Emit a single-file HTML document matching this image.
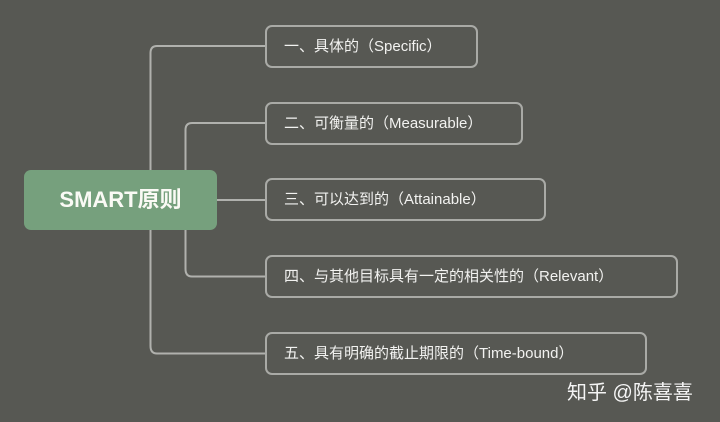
<!DOCTYPE html>
<html><head><meta charset="utf-8"><style>
html,body{margin:0;padding:0}
body{width:720px;height:422px;background:#575853;position:relative;overflow:hidden;font-family:"Liberation Sans","Noto Sans CJK SC",sans-serif}
.b{position:absolute;left:265px;height:43px;border:2px solid #a9aaa6;border-radius:7px;box-sizing:border-box;color:#f2f2f0;font-size:15px;line-height:40px;padding-left:17px}
.c{position:absolute;left:24px;top:170px;width:193px;height:60px;background:#76a07d;border-radius:7px;color:#fafaf5;font-size:22px;font-weight:bold;line-height:60px;text-align:center}
.w{position:absolute;left:567px;top:376px;color:#f4f4f4;font-size:20px}
</style></head><body>
<svg width="720" height="422" style="position:absolute;left:0;top:0">
<g fill="none" stroke="#b0b1ad" stroke-width="2">
<path d="M265 46 H157 Q150.5 46 150.5 53 V346 Q150.5 353.5 157 353.5 H265"/>
<path d="M265 123 H192 Q185.5 123 185.5 130 V269 Q185.5 276.5 192 276.5 H265"/>
<path d="M217 200 H265"/>
</g></svg>
<div class="c">SMART原则</div>
<div class="b" style="top:25px;width:213px">一、具体的（Specific）</div>
<div class="b" style="top:102px;width:258px">二、可衡量的（Measurable）</div>
<div class="b" style="top:178px;width:281px">三、可以达到的（Attainable）</div>
<div class="b" style="top:255px;width:413px">四、与其他目标具有一定的相关性的（Relevant）</div>
<div class="b" style="top:332px;width:382px">五、具有明确的截止期限的（Time-bound）</div>
<div class="w">知乎 @陈喜喜</div>
</body></html>
